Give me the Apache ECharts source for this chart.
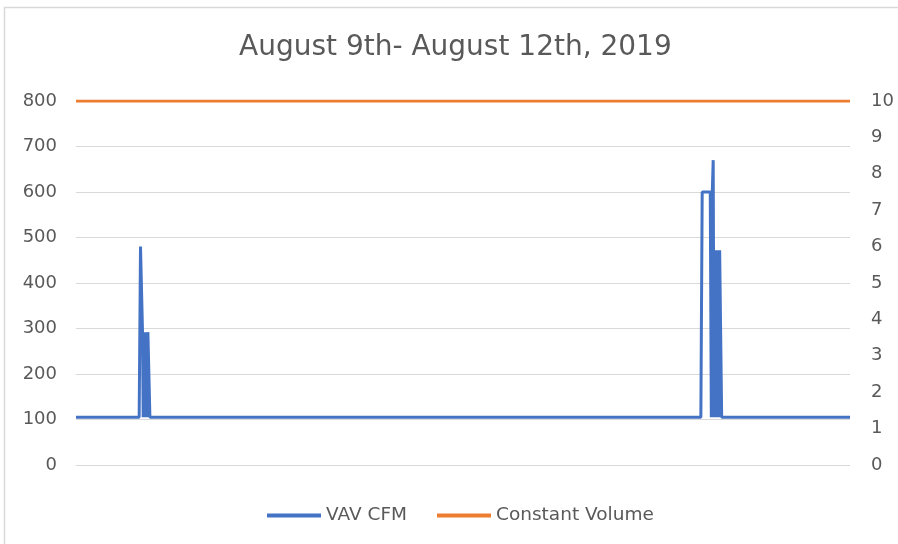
<!DOCTYPE html>
<html>
<head>
<meta charset="utf-8">
<script src="https://cdn.jsdelivr.net/npm/echarts@6/dist/echarts.min.js"></script>
<style>
html,body{margin:0;padding:0;background:#fff;}
#main{width:898px;height:544px;}
</style>
</head>
<body>
<div id="main"></div>
<script>
// minutes from Aug 9 00:00 to Aug 12 24:00
var vavMinutes = [0, 470, 480, 490, 495, 500, 505, 510, 515, 520, 525, 530, 535, 540, 550,
    4650, 4660, 4720, 4728, 4735, 4742, 4748, 4754, 4760, 4766, 4772, 4778, 4784, 4790, 4795, 4805, 5760];
var vavCfm = [105, 105, 480, 480, 292, 105, 292, 105, 292, 105, 292, 105, 292, 292, 105,
    105, 600, 600, 105, 600, 670, 105, 472, 105, 472, 105, 472, 105, 472, 472, 105, 105];
var constMinutes = [0, 5760];
var constVolume = [800, 800];
var leftTicks = [0, 100, 200, 300, 400, 500, 600, 700, 800];
var rightTicks = [0, 1, 2, 3, 4, 5, 6, 7, 8, 9, 10];

var myChart = echarts.init(document.getElementById('main'));

function pairs(xs, ys) {
    var out = [];
    for (var i = 0; i < xs.length; i++) {
        out.push([xs[i], ys[i]]);
    }
    return out;
}

var font = 'DejaVu Sans';
var grey = '#595959';

myChart.setOption({
    animation: false,
    title: {
        text: 'August 9th- August 12th, 2019',
        left: 234,
        top: 29,
        textStyle: {color: grey, fontFamily: font, fontSize: 28, fontWeight: 'normal'}
    },
    graphic: [{
        type: 'rect',
        shape: {x: 4.5, y: 7.5, width: 1000, height: 1000},
        style: {fill: 'none', stroke: '#d9d9d9', lineWidth: 1.5}
    }],
    legend: {
        bottom: 14,
        left: 262,
        icon: 'rect',
        itemWidth: 54,
        itemHeight: 4,
        itemGap: 30,
        textStyle: {color: grey, fontFamily: font, fontSize: 18.5},
        data: ['VAV CFM', 'Constant Volume']
    },
    grid: {left: 76, right: 48, top: 101, bottom: 79},
    xAxis: {
        type: 'value',
        min: 0,
        max: 5760,
        show: false
    },
    yAxis: [{
        type: 'value',
        min: leftTicks[0],
        max: leftTicks[leftTicks.length - 1],
        interval: 100,
        axisLine: {show: false},
        axisTick: {show: false},
        axisLabel: {color: grey, fontFamily: font, fontSize: 18, margin: 19},
        splitLine: {lineStyle: {color: '#d9d9d9', width: 1}}
    }, {
        type: 'value',
        min: rightTicks[0],
        max: rightTicks[rightTicks.length - 1],
        interval: 1,
        axisLine: {show: false},
        axisTick: {show: false},
        axisLabel: {color: grey, fontFamily: font, fontSize: 18, margin: 21},
        splitLine: {show: false}
    }],
    series: [{
        name: 'VAV CFM',
        type: 'line',
        yAxisIndex: 0,
        showSymbol: false,
        symbol: 'none',
        color: '#4472C4',
        lineStyle: {width: 3, color: '#4472C4'},
        data: pairs(vavMinutes, vavCfm)
    }, {
        name: 'Constant Volume',
        type: 'line',
        yAxisIndex: 0,
        showSymbol: false,
        symbol: 'none',
        color: '#ED7D31',
        lineStyle: {width: 3, color: '#ED7D31'},
        data: pairs(constMinutes, constVolume)
    }]
});
</script>
</body>
</html>
